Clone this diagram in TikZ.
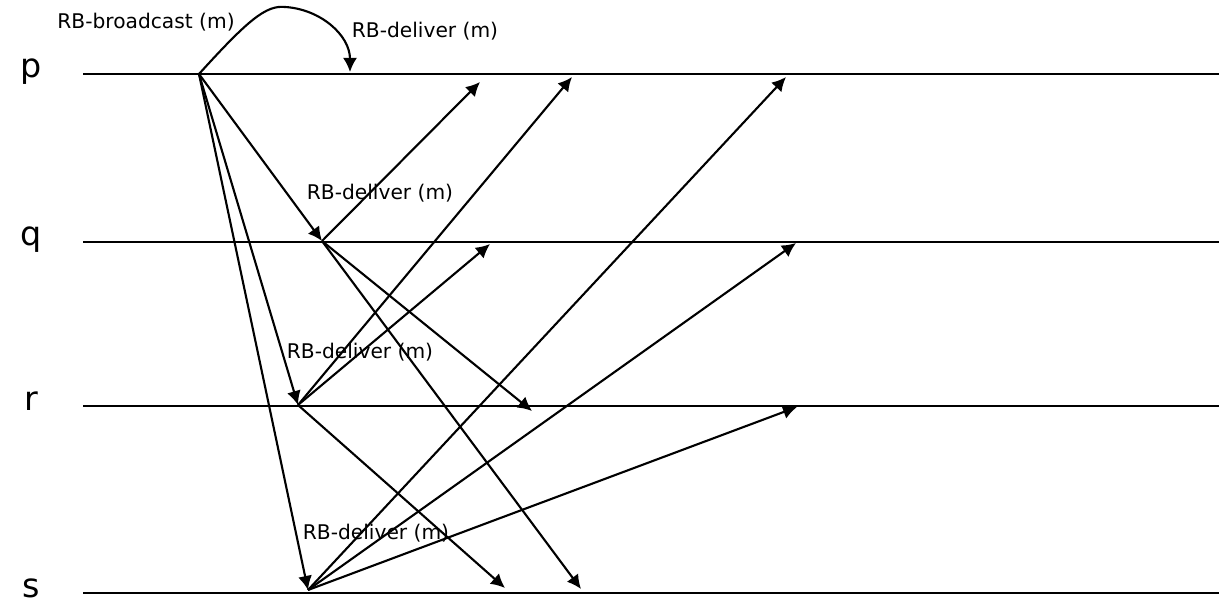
\documentclass[tikz,border=0pt]{standalone}
\usepackage{fontspec}
\setmainfont{DejaVu Sans}
\usetikzlibrary{arrows.meta}

\tikzset{
  proc/.style={line width=1.3pt},
  msg/.style={line width=1.2pt,-{Latex[length=8pt,width=8pt]}},
  evt/.style={font=\fontsize{11.5}{13}\selectfont},
  pname/.style={font=\fontsize{19}{22}\selectfont,anchor=base,inner sep=0pt}
}

\begin{document}
\begin{tikzpicture}[x=0.02cm,y=-0.02cm]
  \useasboundingbox (0,0) rectangle (1219,604);

  % process lines
  \foreach \n/\y in {p/74,q/242,r/406,s/593}{
    \node[pname] (\n) at (31,\y+4) {\n};
    \coordinate (\n start) at (83,\y);
    \coordinate (\n end) at (1219,\y);
    \draw[proc] (\n start) -- (\n end);
  }

  % events where m is delivered
  \coordinate (p0) at (199,74);
  \coordinate (q0) at (322,241);
  \coordinate (r0) at (298,405);
  \coordinate (s0) at (308,590);

  % p broadcasts and delivers to itself
  \coordinate (pself) at (350,72);
  \draw[msg] (p0) .. controls (248,20) and (266,5) .. (285,7)
    .. controls (320,9) and (350,35) .. (pself);
  \node[evt] (bcast) at (146,22) {RB-broadcast (m)};
  \node[evt] (dp) at (425,31) {RB-deliver (m)};

  \foreach \t in {q0,r0,s0}
    \draw[msg] (p0) -- (\t);

  % q relays
  \coordinate (q2p) at (480,82);
  \coordinate (q2r) at (532,411);
  \coordinate (q2s) at (581,589);
  \foreach \t in {q2p,q2r,q2s}
    \draw[msg] (q0) -- (\t);
  \node[evt] (dq) at (380,193) {RB-deliver (m)};

  % r relays
  \coordinate (r2p) at (572,77);
  \coordinate (r2q) at (490,244);
  \coordinate (r2s) at (505,588);
  \foreach \t in {r2p,r2q,r2s}
    \draw[msg] (r0) -- (\t);
  \node[evt] (dr) at (360,352) {RB-deliver (m)};

  % s relays
  \coordinate (s2p) at (786,77);
  \coordinate (s2q) at (796,243);
  \coordinate (s2r) at (797,407);
  \foreach \t in {s2p,s2q,s2r}
    \draw[msg] (s0) -- (\t);
  \node[evt] (ds) at (376,533) {RB-deliver (m)};

\end{tikzpicture}
\end{document}
